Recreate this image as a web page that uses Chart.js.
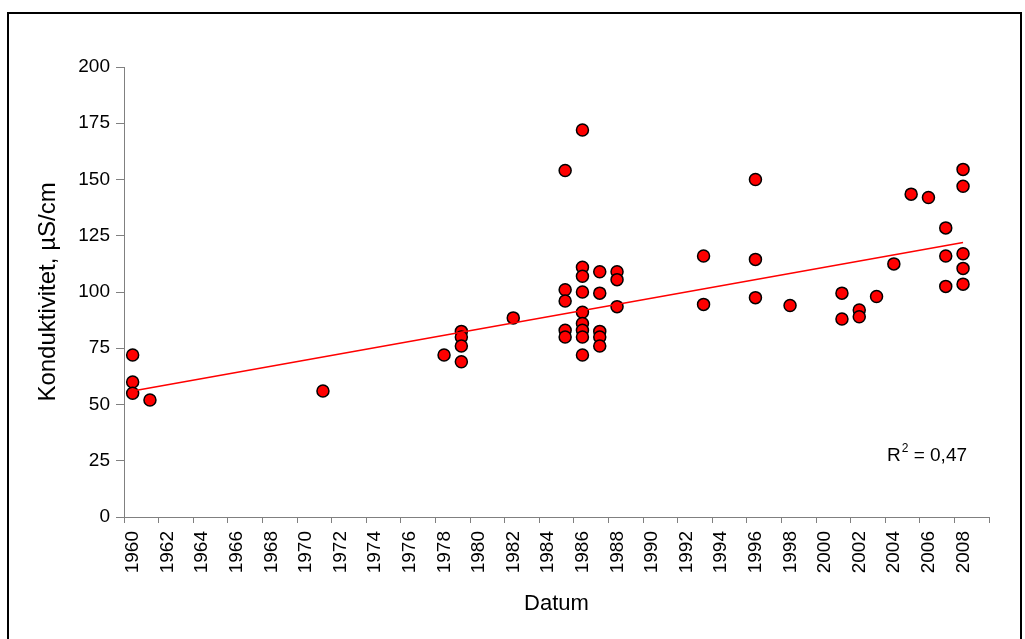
<!DOCTYPE html>
<html>
<head>
<meta charset="utf-8">
<script src="https://cdn.jsdelivr.net/npm/chart.js@4.4.0/dist/chart.umd.min.js"></script>
<style>
  html, body { margin: 0; padding: 0; background: #fff; overflow: hidden; }
  #wrap { position: relative; width: 1025px; height: 639px; }
  #frame { position: absolute; left: 7px; top: 12px; width: 1011px; height: 700px; border: 2px solid #000; pointer-events: none; }
  canvas { position: absolute; left: 0; top: 0; }
</style>
</head>
<body>
<div id="wrap">
  <div id="frame"></div>
  <canvas id="chart" width="1025" height="639"></canvas>
</div>
<script>
// --- Data (year, conductivity µS/cm) ---
const dates = [
  1960.5, 1960.5, 1960.5, 1961.5, 1971.5, 1978.5,
  1979.5, 1979.5, 1979.5, 1979.5, 1982.5,
  1985.5, 1985.5, 1985.5, 1985.5, 1985.5,
  1986.5, 1986.5, 1986.5, 1986.5, 1986.5, 1986.5, 1986.5, 1986.5, 1986.5,
  1987.5, 1987.5, 1987.5, 1987.5, 1987.5,
  1988.5, 1988.5, 1988.5,
  1993.5, 1993.5, 1996.5, 1996.5, 1996.5, 1998.5,
  2001.5, 2001.5, 2002.5, 2002.5, 2003.5, 2004.5, 2005.5, 2006.5,
  2007.5, 2007.5, 2007.5,
  2008.5, 2008.5, 2008.5, 2008.5, 2008.5
];
const konduktivitet = [
  72, 60, 55, 52, 56, 72,
  82.5, 80, 76, 69, 88.5,
  154, 101, 96, 83, 80,
  172, 111, 107, 100, 91, 86, 83, 80, 72,
  109, 99.5, 82.5, 80, 76,
  109, 105.5, 93.5,
  116, 94.5, 150, 114.5, 97.5, 94,
  99.5, 88, 92, 89, 98, 112.5, 143.5, 142,
  128.5, 116, 102.5,
  154.5, 147, 117, 110.5, 103.5
];
// linear trend end points as drawn in the original
const trendDates = [1960.5, 2008.5];
const trendValues = [56, 122];
const rSquared = '0,47';

const xTicks = { min: 1960, max: 2010, step: 2 };
const yTicks = { min: 0, max: 200, step: 25 };

const FONT = '"Liberation Sans", Arial, sans-serif';

// --- R² label ---
const r2Label = {
  id: 'r2Label',
  afterDraw(chart) {
    const ctx = chart.ctx, area = chart.chartArea;
    const x = area.right - 102, y = area.bottom - 56;
    ctx.save();
    ctx.fillStyle = '#000';
    ctx.textBaseline = 'alphabetic';
    ctx.font = '19px ' + FONT;
    ctx.fillText('R', x, y);
    let w = ctx.measureText('R').width;
    ctx.font = '12px ' + FONT;
    ctx.fillText('2', x + w + 1, y - 9);
    w += ctx.measureText('2').width + 1;
    ctx.font = '19px ' + FONT;
    ctx.fillText(' = ' + rSquared, x + w, y);
    ctx.restore();
  }
};

new Chart(document.getElementById('chart'), {
  data: {
    datasets: [
      {
        type: 'line',
        data: trendDates.map((d, i) => ({ x: d, y: trendValues[i] })),
        borderColor: '#ff0000',
        borderWidth: 1.5,
        pointRadius: 0,
        fill: false
      },
      {
        type: 'scatter',
        data: dates.map((d, i) => ({ x: d, y: konduktivitet[i] })),
        backgroundColor: '#ff0000',
        borderColor: '#000000',
        borderWidth: 1.5,
        pointRadius: 6
      }
    ]
  },
  options: {
    responsive: false,
    animation: false,
    layout: { padding: { left: 31, top: 67, right: 36, bottom: 0 } },
    plugins: { legend: { display: false }, tooltip: { enabled: false } },
    scales: {
      x: {
        type: 'linear',
        min: xTicks.min, max: xTicks.max,
        afterFit: s => { s.height = 122; },
        border: { color: '#808080', width: 1 },
        grid: { drawOnChartArea: false, drawTicks: true, tickLength: 6, color: '#808080' },
        ticks: {
          stepSize: xTicks.step,
          autoSkip: false,
          minRotation: 90, maxRotation: 90,
          labelOffset: 9,
          padding: 8,
          color: '#000',
          font: { family: FONT, size: 19 },
          callback: v => v === xTicks.max ? '' : String(v)
        },
        title: {
          display: true, text: 'Datum', color: '#000',
          font: { family: FONT, size: 22 },
          padding: { top: 0, bottom: 22 }
        }
      },
      y: {
        min: yTicks.min, max: yTicks.max,
        afterFit: s => { s.width = 93; },
        border: { color: '#808080', width: 1 },
        grid: { drawOnChartArea: false, drawTicks: true, tickLength: 8, color: '#808080' },
        ticks: {
          stepSize: yTicks.step,
          padding: 6,
          color: '#000',
          font: { family: FONT, size: 19 }
        },
        title: {
          display: true, text: 'Konduktivitet, µS/cm', color: '#000',
          font: { family: FONT, size: 24 },
          padding: { top: 3, bottom: 0 }
        }
      }
    }
  },
  plugins: [r2Label]
});
</script>
</body>
</html>
